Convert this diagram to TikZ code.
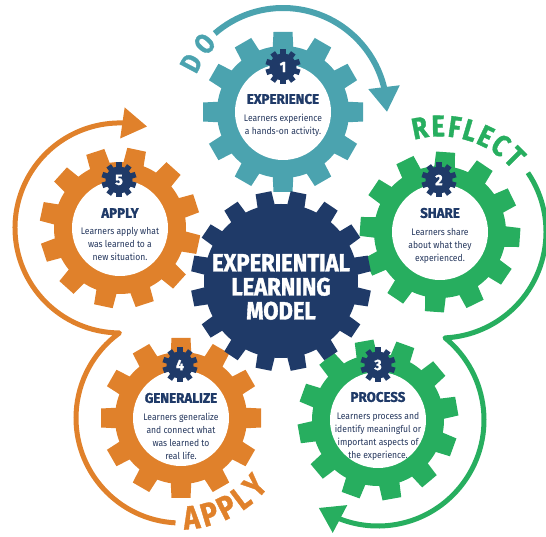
\documentclass[tikz,border=0pt]{standalone}
\usepackage{fontspec}
\setmainfont{Fira Sans}
\newfontfamily\ttlfont{Fira Sans}[FakeStretch=0.95, BoldFeatures={FakeBold=1.2}]
\newfontfamily\bdyfont{Fira Sans}[FakeStretch=0.9]
\newfontfamily\ctrfont{Fira Sans}[FakeStretch=0.88, BoldFeatures={FakeBold=1.5}]
\newfontfamily\bigfont{Fira Sans}[FakeStretch=0.85, BoldFeatures={FakeBold=1.2}]
\usetikzlibrary{arrows.meta,bending,calc}
\definecolor{teal1}{HTML}{4BA3AF}
\definecolor{green1}{HTML}{27AE5F}
\definecolor{orange1}{HTML}{E0812B}
\definecolor{navy1}{HTML}{1F3A68}
\definecolor{ink1}{HTML}{26385E}
\newcommand{\drawcolgear}[3]{%
 \begin{scope}[shift={#1}]
  \fill[#2] (0,0) circle (66);
  \foreach \k in {0,...,11}{\fill[#2,rotate=#3+\k*30] (-10.5,60) -- (10.5,60) -- (9.5,80) -- (-9.5,80) -- cycle;}
  \fill[white] (0,0) circle (48);
 \end{scope}}
\newcommand{\drawnumgear}[3]{%
 \begin{scope}[shift={#1}]
  \fill[navy1] (0,0) circle (13.5);
  \foreach \k in {0,...,9}{\fill[navy1,rotate=\k*36] (-2.8,12) rectangle (2.8,17.5);}
 \end{scope}
 \node[numtxt] (#2) at #1 {#3};}
\tikzset{
 gtitle/.style={font=\ttlfont\bfseries\fontsize{14}{14}\selectfont, text=navy1, inner sep=0},
 gbody/.style={font=\bdyfont\fontsize{9.5}{13}\selectfont, text=ink1, align=center, inner sep=0, anchor=north},
 numtxt/.style={font=\ttlfont\bfseries\fontsize{15}{15}\selectfont, text=white, inner sep=0},
 bigtxt/.style={font=\bigfont\bfseries\fontsize{#1}{#1}\selectfont, inner sep=0},
}
\begin{document}
\begin{tikzpicture}[x=1pt,y=1pt]
\useasboundingbox (0,0) rectangle (546,537);
% circular arrows
\draw[teal1, line width=6pt, -{Triangle[length=25pt,width=30pt]}]
  (283,425) ++(131:104) arc[start angle=131, end angle=0, radius=104];
\draw[green1, line width=5pt, line join=round, -{Triangle[length=24pt,width=30pt]}]
  (440,305) ++(34:106) arc[start angle=34, end angle=-87.3, radius=106]
  arc[start angle=50.8, end angle=-124, radius=106];
\draw[orange1, line width=5pt, line join=round, -{Triangle[length=25pt,width=30pt]}]
  (181,119) ++(-93:105) arc[start angle=-93, end angle=-234.1, radius=105]
  arc[start angle=-90.3, end angle=-285, radius=105];
% curved words
\foreach \l/\a in {D/152,O/139}
  \node[bigtxt=28, text=teal1, rotate=\a-90] (do\l) at ($(283,425)+(\a:104)$) {\l};
\foreach \l/\a/\i in {R/101/1,E/91/2,F/82/3,L/73.5/4,E/64.5/5,C/55/6,T/45/7}
  \node[bigtxt=30, text=green1, rotate=\a-90] (rf\i) at ($(440,305)+(\a:106)$) {\l};
\foreach \l/\a/\i in {A/-84/1,P/-73.5/2,P/-63/3,L/-53/4,Y/-42.5/5}
  \node[bigtxt=33, text=orange1, rotate=\a+90] (ap\i) at ($(181,119)+(\a:100)$) {\l};
% gears
\drawcolgear{(283,425)}{teal1}{0}
\drawcolgear{(440,305)}{green1}{-4}
\drawcolgear{(378,117)}{green1}{10}
\drawcolgear{(181,119)}{orange1}{0}
\drawcolgear{(120,309)}{orange1}{18}
\begin{scope}[shift={(281,256)}]
 \fill[navy1] (0,0) circle (77);
 \foreach \k in {0,...,15}{\fill[navy1,rotate=11.25+\k*22.5] (-9,70) -- (9,70) -- (8,90) -- (-8,90) -- cycle;}
\end{scope}
\node[font=\ctrfont\bfseries\fontsize{25}{24}\selectfont, text=white, align=center, inner sep=0] (ctr) at (281,250) {EXPERIENTIAL\\LEARNING\\MODEL};
% number gears
\drawnumgear{(283,470)}{n1}{1}
\drawnumgear{(439,357)}{n2}{2}
\drawnumgear{(378,172)}{n3}{3}
\drawnumgear{(180,172)}{n4}{4}
\drawnumgear{(119,357)}{n5}{5}
% texts
\node[gtitle] (t1) at (283,438) {EXPERIENCE};
\node[gbody] (b1) at (283,423) {Learners experience\\a hands-on activity.};
\node[gtitle] (t2) at (440,324) {SHARE};
\node[gbody] (b2) at (440,309) {Learners share\\about what they\\experienced.};
\node[gtitle] (t3) at (378,140) {PROCESS};
\node[gbody] (b3) at (378,125) {Learners process and\\identify meaningful or\\important aspects of\\the experience.};
\node[gtitle] (t4) at (181,139) {GENERALIZE};
\node[gbody] (b4) at (181,124) {Learners generalize\\and connect what\\was learned to\\real life.};
\node[gtitle] (t5) at (120,324) {APPLY};
\node[gbody] (b5) at (120,310) {Learners apply what\\was learned to a\\new situation.};
\end{tikzpicture}
\end{document}
